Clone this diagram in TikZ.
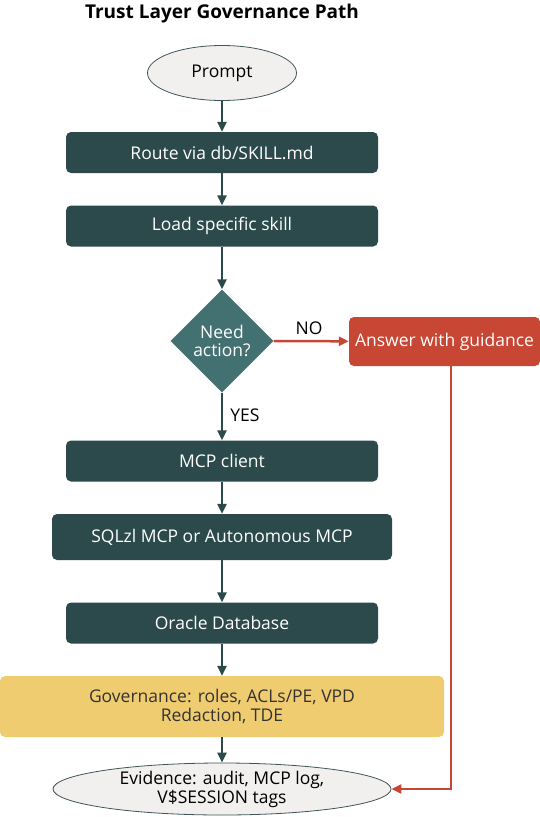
\documentclass[tikz,border=0pt]{standalone}
\usepackage{fontspec}
\setmainfont{Open Sans}
\usetikzlibrary{arrows.meta,shapes.geometric}
\definecolor{darkteal}{HTML}{2C4A4B}
\definecolor{midteal}{HTML}{437071}
\definecolor{oraclered}{HTML}{C74634}
\definecolor{govyellow}{HTML}{F0CC71}
\definecolor{lightgray}{HTML}{F1F0EE}
\definecolor{edgegray}{HTML}{3F5557}
\tikzset{
  stepbox/.style  = {rectangle, rounded corners=5pt, fill=darkteal, text=white,
                     inner sep=0pt, minimum height=41pt, font=\fontsize{17.5}{20}\selectfont},
  terminal/.style = {ellipse, draw=edgegray, fill=lightgray, text=black, thick,
                     inner sep=0pt, align=center, font=\fontsize{17.5}{19}\selectfont},
  flow/.style     = {draw=darkteal, line width=2.5pt, -{Triangle[length=10pt,width=9pt]}},
  noflow/.style   = {draw=oraclered, line width=2.5pt, -{Triangle[length=10pt,width=9pt]}},
  lbl/.style      = {text=black, font=\fontsize{17.5}{20}\selectfont}
}
\begin{document}
\begin{tikzpicture}[x=1pt, y=-1pt]
        \useasboundingbox (0,0) rectangle (540,817);
        \node[font=\fontsize{19}{22}\selectfont\bfseries] (title) at (222,14) {Trust Layer Governance Path};
        \node[terminal, minimum width=149pt, minimum height=55pt] (prompt) at (222,73) {Prompt};
        \node[stepbox, minimum width=312pt] (route) at (222,152.5) {Route via db/SKILL.md};
        \node[stepbox, minimum width=312pt] (load)  at (222,226)   {Load specific skill};
        \node[diamond, fill=midteal, text=white, inner sep=0pt, minimum size=103pt,
              align=center, font=\fontsize{17.5}{18}\selectfont] (need) at (222,341) {Need\\action?};
        \node[stepbox, fill=oraclered, minimum width=191pt, minimum height=49pt] (answer) at (444.5,341.5) {Answer with guidance};
        \node[stepbox, minimum width=312pt] (client) at (222,461) {MCP client};
        \node[stepbox, minimum width=340pt, minimum height=46pt] (server) at (222,537) {SQLzl MCP or Autonomous MCP};
        \node[stepbox, minimum width=312pt] (db) at (222,623) {Oracle Database};
        \node[stepbox, fill=govyellow, text=black!80, minimum width=444pt, minimum height=61pt,
              align=center, font=\fontsize{17.5}{19}\selectfont] (gov) at (222,706.5) {Governance: roles, ACLs/PE, VPD\\Redaction, TDE};
        \node[terminal, minimum width=338pt, minimum height=52pt] (evidence) at (222,789) {Evidence: audit, MCP log,\\V\$SESSION tags};
        \draw[flow]   (prompt) -- (route);
        \draw[flow]   (route) -- (load);
        \draw[flow]   (load) -- (need);
        \draw[noflow] (need) -- (answer);
        \draw[flow]   (need) -- (client);
        \draw[flow]   (client) -- (server);
        \draw[flow]   (server) -- (db);
        \draw[flow]   (db) -- (gov);
        \draw[flow]   (gov) -- (evidence);
        \draw[noflow] ([xshift=6.5pt]answer.south) |- (evidence.east);
        \node[lbl] (nolbl)  at (309,328) {NO};
        \node[lbl] (yeslbl) at (245,415) {YES};
\end{tikzpicture}
\end{document}
